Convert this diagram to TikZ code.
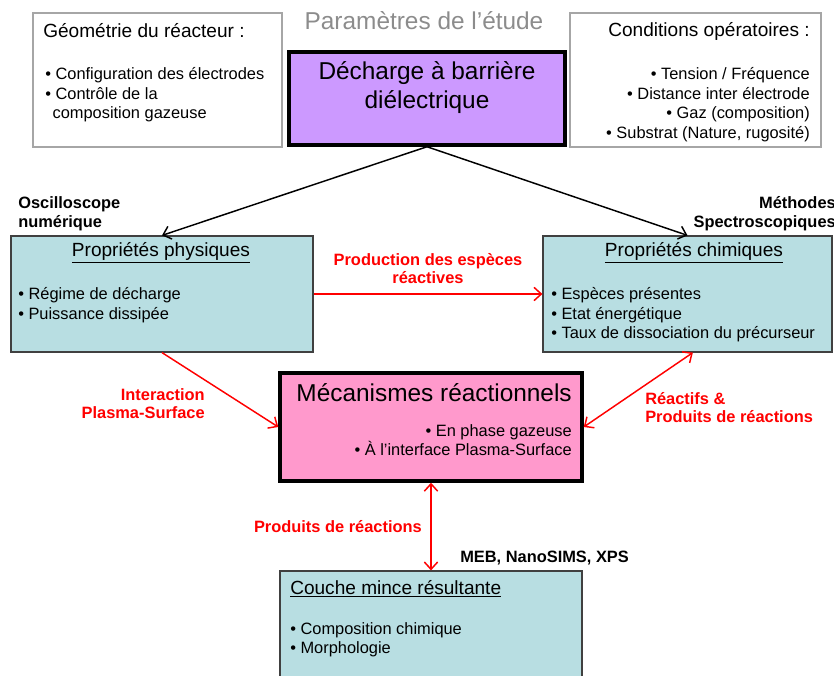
\documentclass[tikz,border=0pt]{standalone}
\usepackage{fontspec}
\setmainfont{Liberation Sans}
\usepackage{tikz}
\usetikzlibrary{arrows.meta}

\definecolor{dbdviolet}{HTML}{CC99FF}
\definecolor{mecapink}{HTML}{FF99CC}
\definecolor{propblue}{HTML}{B8DEE2}
\definecolor{paramgray}{HTML}{A6A6A6}
\definecolor{titlegray}{HTML}{8C8C8C}
\definecolor{labelred}{HTML}{FF0000}

\begin{document}
\begin{tikzpicture}[
        x=0.75pt, y=-0.75pt,
        >={Straight Barb[length=5.5pt, width=10pt]},
        body/.style={font={\fontsize{12.3}{14.6}\selectfont}, inner sep=0pt},
        heading/.style={font={\fontsize{14.3}{16}\selectfont}, inner sep=0pt},
        big/.style={font={\fontsize{18.3}{21.75}\selectfont}, inner sep=0pt},
        tag/.style={font={\fontsize{12.3}{14}\selectfont\bfseries}, inner sep=0pt},
        redtag/.style={tag, text=labelred},
        parambox/.style={draw=paramgray, line width=1.2pt, fill=white, inner sep=0pt},
        strongbox/.style={draw=black, line width=2.6pt, inner sep=0pt},
        propbox/.style={draw=black!75, line width=0.9pt, fill=propblue, inner sep=0pt},
        arrow/.style={->, line width=1.1pt, draw=black},
        redarrow/.style={->, line width=1.1pt, draw=labelred},
        twoway/.style={<->, line width=1.1pt, draw=labelred}
    ]
        \useasboundingbox (0,0) rectangle (834,675);

        % parametres
        \node[font={\fontsize{18.3}{21}\selectfont}, text=titlegray, inner sep=0pt] (study) at (424,21) {Paramètres de l’étude};

        \node[parambox, minimum width=186.75pt, minimum height=100.5pt] (geo) at (157.5,80) {};
        \node[heading, anchor=west] (geotitle) at (43,31) {Géométrie du réacteur :};
        \node[body, anchor=west, align=left] (geolist) at (45,95) {• Configuration des électrodes\\• Contrôle de la\\\hspace*{5.5pt}composition gazeuse};

        \node[parambox, minimum width=188.25pt, minimum height=100.5pt] (cond) at (695.5,80) {};
        \node[heading, anchor=east] (condtitle) at (810,31) {Conditions opératoires :};
        \node[body, anchor=east, align=right] (condlist) at (810,104.5) {• Tension / Fréquence\\• Distance inter électrode\\• Gaz (composition)\\• Substrat (Nature, rugosité)};

        \node[strongbox, fill=dbdviolet, minimum width=207pt, minimum height=69.75pt] (dbd) at (427,98.5) {};
        \node[big, align=center] (dbdtxt) at (427,88) {Décharge à barrière\\diélectrique};

        % proprietes
        \node[propbox, minimum width=226.5pt, minimum height=87pt] (phys) at (162,294) {};
        \node[heading] (phystitle) at (161,253) {\underline{Propriétés physiques}};
        \node[body, anchor=west, align=left] (physlist) at (18,305) {• Régime de décharge\\• Puissance dissipée};

        \node[propbox, minimum width=216.75pt, minimum height=87pt] (chem) at (687.5,294) {};
        \node[heading] (chemtitle) at (694,253) {\underline{Propriétés chimiques}};
        \node[body, anchor=west, align=left] (chemlist) at (551,315) {• Espèces présentes\\• Etat énergétique\\• Taux de dissociation du précurseur};

        \node[tag, anchor=west, align=left] (oscillo) at (18,214) {Oscilloscope\\numérique};
        \node[tag, anchor=east, align=right] (spectro) at (836,214) {Méthodes\\Spectroscopiques};

        % mecanismes
        \node[strongbox, fill=mecapink, minimum width=226.5pt, minimum height=81pt] (meca) at (431,427) {};
        \node[big, anchor=east] (mecatitle) at (572,393) {Mécanismes réactionnels};
        \node[body, anchor=east, align=right] (mecalist) at (572,440) {• En phase gazeuse\\• À l’interface Plasma-Surface};

        % couche mince
        \node[propbox, minimum width=226.5pt, minimum height=89.25pt] (film) at (431,630.5) {};
        \node[heading, anchor=west] (filmtitle) at (290,589) {\underline{Couche mince résultante}};
        \node[body, anchor=west, align=left] (filmlist) at (290,639.5) {• Composition chimique\\• Morphologie};
        \node[tag, anchor=west] (analyse) at (460,558) {MEB, NanoSIMS, XPS};

        % labels
        \node[redtag, align=center] (prodlabel) at (428,268.5) {Production des espèces\\réactives};
        \node[redtag, anchor=east, align=right] (interlabel) at (205,403.5) {Interaction\\Plasma-Surface};
        \node[redtag, anchor=west, align=left] (reaclabel) at (645,407.5) {Réactifs \&\\Produits de réactions};
        \node[redtag, anchor=east] (produits) at (422,527) {Produits de réactions};

        \draw[arrow] (dbd.south) -- (phys.north);
        \draw[arrow] (dbd.south) -- (chem.north);

        \draw[redarrow] (phys.east) -- (chem.west);
        \draw[redarrow] (phys.south) -- (meca.west);
        \draw[twoway] (meca.east) -- ([xshift=4pt]chem.south);
        \draw[twoway] (meca.south) -- (film.north);

    \end{tikzpicture}
\end{document}
